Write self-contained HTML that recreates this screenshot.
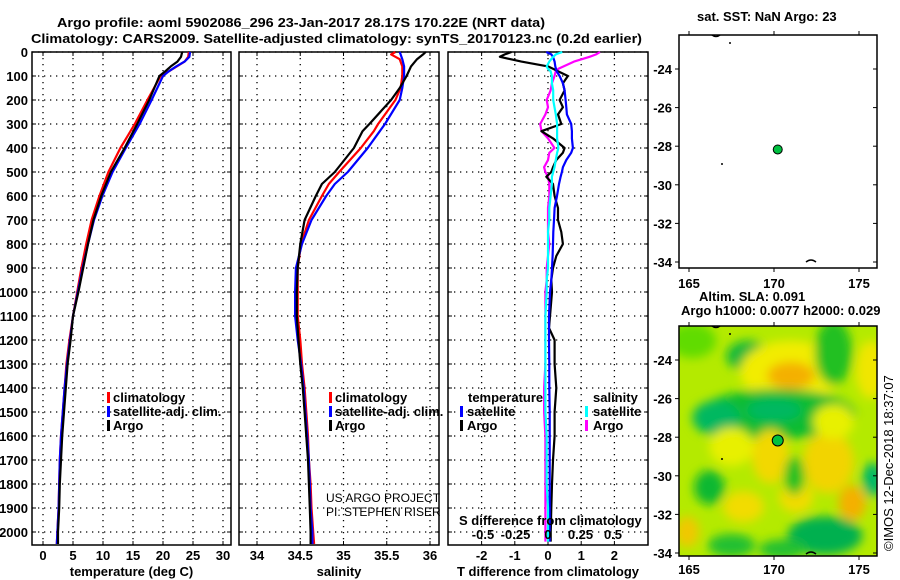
<!DOCTYPE html>
<html><head><meta charset="utf-8"><style>
html,body{margin:0;padding:0;background:#fff;}
svg{display:block;font-family:"Liberation Sans",sans-serif;}
.b{font-weight:bold;font-size:13px;}
</style></head><body>
<svg id="c" width="900" height="580" viewBox="0 0 900 580" xmlns="http://www.w3.org/2000/svg">
<defs>
<filter id="blur" x="-50%" y="-50%" width="200%" height="200%"><feGaussianBlur stdDeviation="5"/></filter>
<clipPath id="mapclip"><rect x="679" y="326" width="198" height="230"/></clipPath>
</defs>
<text x="57" y="27" class="b" font-size="14" textLength="488" lengthAdjust="spacingAndGlyphs">Argo profile: aoml 5902086_296 23-Jan-2017 28.17S 170.22E (NRT data)</text>
<text x="31" y="43" class="b" font-size="14" textLength="611" lengthAdjust="spacingAndGlyphs">Climatology: CARS2009. Satellite-adjusted climatology: synTS_20170123.nc (0.2d earlier)</text>
</svg>
<script>
// ---- data ----
const tDepth=[0,20,40,60,80,100,200,300,400,500,600,700,800,900,1000,1100,1200,1300,1400,1500,1600,1700,1800,1900,2000,2050];
const tClim=[24.3,24.2,23.6,22.3,21,19.6,17.4,15.3,12.9,10.9,9.4,8.1,7.2,6.4,5.7,5.0,4.4,3.9,3.6,3.3,3.0,2.8,2.7,2.6,2.4,2.3];
const tSat=[24.5,24.4,23.6,22.2,21,20,18.1,16.1,13.8,11.6,9.9,8.5,7.5,6.6,5.8,5.0,4.5,4.0,3.6,3.3,3.0,2.8,2.7,2.6,2.4,2.3];
const tArgo=[23.2,23,22.4,21.3,20.4,19.4,17.7,15.7,13.6,11.3,9.7,8.4,7.5,6.7,5.9,5.0,4.6,4.1,3.8,3.5,3.2,3.0,2.8,2.7,2.5,2.5];
const sDepth=[0,10,30,60,100,150,200,300,330,400,500,550,600,700,800,900,1000,1100,1200,1300,1400,1500,1600,1700,1800,1900,2000,2050];
const sClim=[35.6,35.55,35.65,35.68,35.68,35.66,35.6,35.4,35.35,35.2,34.95,34.83,34.75,34.6,34.51,34.47,34.47,34.47,34.5,34.52,34.55,34.57,34.59,34.6,34.62,34.63,34.65,34.66];
const sSat=[35.65,35.66,35.68,35.7,35.7,35.68,35.65,35.48,35.42,35.28,35.05,34.9,34.8,34.63,34.52,34.45,34.44,34.44,34.47,34.51,34.54,34.56,34.58,34.6,34.61,34.62,34.64,34.64];
const sArgo=[35.95,35.92,35.85,35.78,35.73,35.65,35.55,35.3,35.22,35.12,34.9,34.75,34.68,34.55,34.5,34.47,34.46,34.46,34.48,34.5,34.53,34.55,34.57,34.59,34.6,34.61,34.62,34.62];
const dDepth=[0,10,20,40,60,70,80,100,130,160,200,230,260,300,330,360,400,420,450,480,500,520,550,600,650,700,750,800,850,900,950,1000,1100,1150,1200,1300,1400,1500,1600,1700,1800,1900,2000,2040];
const dTArgo=[-1.1,-1.3,-1.45,-0.8,0,0.15,0.3,0.6,0.45,0.5,0.35,0.45,0.3,0.4,-0.2,0.15,0.5,0.45,0.25,0.15,0.1,-0.05,0.15,0.2,0.3,0.3,0.4,0.45,0.25,0.15,0.1,0.12,0.06,0.03,0.2,0.2,0.25,0.2,0.2,0.15,0.12,0.1,0.08,0.08];
const dTSat=[-0.05,0.1,0.15,0.2,0.22,0.24,0.26,0.35,0.45,0.5,0.53,0.55,0.57,0.7,0.72,0.72,0.75,0.7,0.55,0.45,0.42,0.38,0.33,0.27,0.2,0.18,0.16,0.15,0.14,0.12,0.1,0.06,0.03,0.03,0.03,0.04,0.04,0.05,0.05,0.05,0.05,0.05,0.05,0.05];
const dSSat=[0.11,0.06,0.04,0.01,-0.01,0,0.02,0.03,0.03,0.04,0.04,0.05,0.06,0.07,0.07,0.07,0.08,0.07,0.06,0.05,0.04,0.03,0.03,0.02,0.01,0.01,0.0,0.0,0.0,0.0,-0.01,-0.01,-0.02,-0.02,-0.02,-0.02,-0.02,-0.02,-0.01,-0.01,-0.01,0,0,0];
const dSArgo=[0.4,0.37,0.32,0.2,0.12,0.08,0.06,0.05,0.03,0.02,-0.01,0,-0.02,-0.06,-0.05,0.0,0.05,0.01,0.0,-0.03,-0.02,0.0,0.01,0.01,0.0,0.0,0.0,0.01,0.0,-0.01,-0.01,-0.02,-0.02,-0.02,-0.02,-0.02,-0.03,-0.03,-0.02,-0.02,-0.02,-0.02,-0.02,-0.02];
const depthTicks=[0,100,200,300,400,500,600,700,800,900,1000,1100,1200,1300,1400,1500,1600,1700,1800,1900,2000];
const tTicks=[0,5,10,15,20,25,30];
const sTicks=[34,34.5,35,35.5,36];
const dtTicks=[-2,-1,0,1,2];
const dsTicks=[-0.5,-0.25,0,0.25,0.5];
const dsTickLabels=['-0.5','-0.25','0','0.25','0.5'];
const latTicks=[-24,-26,-28,-30,-32,-34];
const lonTicks=[165,170,175];
const argoLon=[170.22];
const argoLat=[-28.17];

// ---- helpers ----
const NS='http://www.w3.org/2000/svg';
const svg=document.getElementById('c');
function mk(tag,attrs,parent){const e=document.createElementNS(NS,tag);for(const k in attrs)e.setAttribute(k,attrs[k]);(parent||svg).appendChild(e);return e;}
const y=d=>52+d*0.24;
const Y0=52,Y1=545;
const xT=v=>43+v*6.0;
const xS=v=>257+(v-34)*86.5;
const xDT=v=>548+v*33.2;
const xDS=v=>548+v*130;
const lonX=v=>689+(v-165)*17;
const latY1=v=>69+(-24-v)*19.3;
const latY2=v=>360+(-24-v)*19.3;

function panel(name,x0,x1,ticks,xf,labels,title,showDepth){
  const g=mk('g',{});
  
  
  depthTicks.forEach(d=>{
    const l=mk('line',{x1:x0,x2:x1,y1:y(d),y2:y(d),stroke:'#000','stroke-width':1.3,'stroke-dasharray':'1.3,4.7'},g);
    
    
    mk('line',{x1:x0,x2:x0+4,y1:y(d),y2:y(d),stroke:'#000'},g);
    mk('line',{x1:x1-4,x2:x1,y1:y(d),y2:y(d),stroke:'#000'},g);
    if(showDepth){const t=mk('text',{x:x0-4,y:y(d)+5,'text-anchor':'end',class:'b'},g);t.textContent=d;
      
      }
  });
  ticks.forEach((v,i)=>{
    const l=mk('line',{x1:xf(v),x2:xf(v),y1:Y0,y2:Y1,stroke:'#000','stroke-width':1.3,'stroke-dasharray':'1.3,4.7'},g);
    
    
    mk('line',{x1:xf(v),x2:xf(v),y1:Y0,y2:Y0+4,stroke:'#000'},g);
    mk('line',{x1:xf(v),x2:xf(v),y1:Y1-4,y2:Y1,stroke:'#000'},g);
    const t=mk('text',{x:xf(v),y:560,'text-anchor':'middle',class:'b'},g);t.textContent=labels[i];
    
    
  });
  const r=mk('rect',{x:x0,y:Y0,width:x1-x0,height:Y1-Y0,fill:'none',stroke:'#000','stroke-width':1.5},g);
  
  
  const t=mk('text',{x:(x0+x1)/2,y:576,'text-anchor':'middle',class:'b'},g);t.textContent=title;
  
  
}
function line(name,xs,ds,xf,col){
  const p=xs.map((v,i)=>xf(v).toFixed(1)+','+y(ds[i]).toFixed(1)).join(' ');
  const e=mk('polyline',{points:p,fill:'none',stroke:col,'stroke-width':2.2,'stroke-linejoin':'round'});
  
  
}
function txt(name,s,x,yy,attrs){const t=mk('text',Object.assign({x:x,y:yy,class:'b'},attrs||{}));t.textContent=s;
  
  
  return t;}
function mark(name,x,yy,col){const r=mk('rect',{x:x,y:yy-10,width:3,height:11,fill:col});
  
  }

// panel 1
panel('temperature-panel',32,231,tTicks,xT,tTicks.map(String),'temperature (deg C)',true);
line('temperature-climatology-line',tClim,tDepth,xT,'#f00');
line('temperature-satellite-line',tSat,tDepth,xT,'#00f');
line('temperature-argo-line',tArgo,tDepth,xT,'#000');
mark('legend-climatology-marker',107,402,'#f00');txt('legend-climatology','climatology',113,402);
mark('legend-satellite-marker',107,416,'#00f');txt('legend-satellite','satellite-adj. clim.',113,416);
mark('legend-argo-marker',107,430,'#000');txt('legend-argo','Argo',113,430);

// panel 2
panel('salinity-panel',239,439,sTicks,xS,sTicks.map(String),'salinity',false);
line('salinity-climatology-line',sClim,sDepth,xS,'#f00');
line('salinity-satellite-line',sSat,sDepth,xS,'#00f');
line('salinity-argo-line',sArgo,sDepth,xS,'#000');
mark('legend-climatology-marker-2',329,402,'#f00');txt('legend-climatology-2','climatology',335,402);
mark('legend-satellite-marker-2',329,416,'#00f');txt('legend-satellite-2','satellite-adj. clim.',335,416);
mark('legend-argo-marker-2',329,430,'#000');txt('legend-argo-2','Argo',335,430);
txt('credit-project','US ARGO PROJECT',326,502,{class:'',style:'font-size:12px'});
txt('credit-pi','PI: STEPHEN RISER',326,516,{class:'',style:'font-size:12px'});

// panel 3
panel('difference-panel',448,648,dtTicks,xDT,dtTicks.map(String),'T difference from climatology',false);
line('salinity-argo-diff-line',dSArgo,dDepth,xDS,'#f0f');
line('temperature-argo-diff-line',dTArgo,dDepth,xDT,'#000');
line('temperature-satellite-diff-line',dTSat,dDepth,xDT,'#00f');
line('salinity-satellite-diff-line',dSSat,dDepth,xDS,'#0ff');
txt('s-axis-title','S difference from climatology',459,525);
dsTicks.forEach((v,i)=>{txt('s-tick-label',dsTickLabels[i],xDS(v),539,{'text-anchor':'middle'});});
txt('legend-temperature-header','temperature',468,402);
mark('legend-t-satellite-marker',460,416,'#00f');txt('legend-t-satellite','satellite',467,416);
mark('legend-t-argo-marker',460,430,'#000');txt('legend-t-argo','Argo',467,430);
txt('legend-salinity-header','salinity',593,402);
mark('legend-s-satellite-marker',585,416,'#0ff');txt('legend-s-satellite','satellite',593,416);
mark('legend-s-argo-marker',585,430,'#f0f');txt('legend-s-argo','Argo',593,430);

// maps
function mapFrame(name,top,bot,latY,lblY){
  const g=mk('g',{});
  
  
  latTicks.forEach(v=>{mk('line',{x1:679,x2:675,y1:latY(v),y2:latY(v),stroke:'#000'},g);mk('line',{x1:877,x2:873,y1:latY(v),y2:latY(v),stroke:'#000'},g);
    const t=mk('text',{x:672,y:latY(v)+5,'text-anchor':'end',class:'b'},g);t.textContent=v;
    
    });
  lonTicks.forEach(v=>{mk('line',{x1:lonX(v),x2:lonX(v),y1:top,y2:top-4,stroke:'#000'},g);mk('line',{x1:lonX(v),x2:lonX(v),y1:bot,y2:bot+4,stroke:'#000'},g);
    const t=mk('text',{x:lonX(v),y:lblY,'text-anchor':'middle',class:'b'},g);t.textContent=v;
    
    });
  const r=mk('rect',{x:679,y:top,width:198,height:bot-top,fill:'none',stroke:'#000','stroke-width':1.5},g);
  
  
}
// SLA heatmap blobs (lon, lat, rx deg, ry deg, colour)
const blobLon=[165.2,168.5,171,171,170.2,166.6,170,173.5,175.7,169.8,173.2,174.6,166.2,168.2,171.3,171.2,173,164.9,175.8,167.5,170.5,167.5,173.5];
const blobLat=[-23,-23.8,-24.6,-24.8,-26.8,-27,-26.6,-23.6,-24.5,-29,-29.3,-31.4,-30.6,-31.6,-31.1,-30,-33.1,-32.9,-30.2,-33.6,-33.8,-28.5,-27.2];
const blobRx=[1.4,1.3,3.0,1.4,4.6,1.4,1.6,1.1,0.9,1.1,1.5,0.8,0.9,1.2,1.0,0.6,2.2,0.7,0.6,1.4,1.4,1.3,1.2];
const blobRy=[0.9,0.8,1.6,0.7,1.3,0.9,0.6,1.7,1.5,1.4,1.6,0.9,0.9,0.8,0.8,1.0,1.0,0.8,0.9,0.6,0.5,1.0,0.9];
const blobCol=['#60dc00','#10b83c','#f2ec00','#f4b000','#10bc30','#00b860','#00b860','#20c020','#f0e600','#f2d800','#f2d400','#f4b000','#10b830','#f2dc00','#f2dc00','#20c020','#00b050','#f0c800','#00b868','#20c030','#20c030','#e8f000','#e8f000'];
mapFrame('sst-map',35,268,latY1,288);
txt('sst-map-title','sat. SST: NaN Argo: 23',697,21);
mk('path',{d:'M712,35 q4,3 8,0 M729,43 l2,0 M722,163 l0,2 M806,262 q5,-4 10,0',stroke:'#000',fill:'none','stroke-width':1.5});
const c1=mk('circle',{cx:lonX(argoLon[0]),cy:latY1(argoLat[0]),r:4.5,fill:'#00c040',stroke:'#000'});



const hm=mk('g',{'clip-path':'url(#mapclip)'});


mk('rect',{x:679,y:326,width:198,height:230,fill:'#b4ea00'},hm);
const bg=mk('g',{filter:'url(#blur)'},hm);
blobLon.forEach((v,i)=>{const e=mk('ellipse',{cx:lonX(v),cy:latY2(blobLat[i]),rx:blobRx[i]*17,ry:blobRy[i]*19.3,fill:blobCol[i]},bg);
  
  });
mk('path',{d:'M712,326 q4,3 8,0 M729,334 l2,0 M722,458 l0,2 M806,554 q5,-4 10,0',stroke:'#000',fill:'none','stroke-width':1.5});
mapFrame('sla-map',326,556,latY2,574);
txt('sla-map-title','Altim. SLA: 0.091',699,301);
txt('sla-map-subtitle','Argo h1000: 0.0077 h2000: 0.029',681,315);
const c2=mk('circle',{cx:lonX(argoLon[0]),cy:latY2(argoLat[0]),r:5.5,fill:'#00c040',stroke:'#000'});


const cr=txt('imos-credit','©IMOS 12-Dec-2018 18:37:07',0,0,{class:'',style:'font-size:13px',transform:'translate(893,551) rotate(-90)'});
</script>
</body></html>
